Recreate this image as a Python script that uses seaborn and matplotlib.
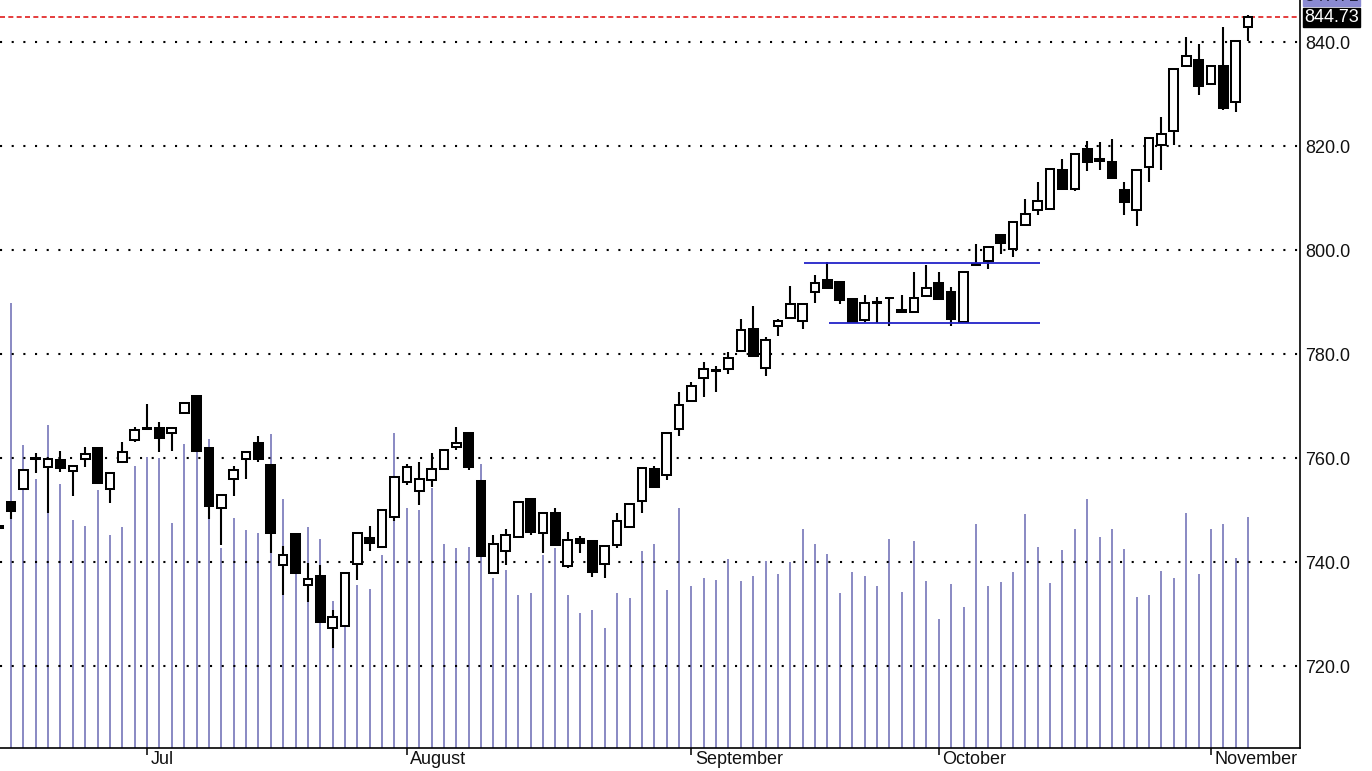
import numpy as np
import matplotlib
matplotlib.use("Agg")
import matplotlib.pyplot as plt
import seaborn as sns

# ---------------- data ----------------
opens = [746.9,
    751.5, 754.0, 759.9, 758.3, 759.6, 757.5, 759.8, 761.9, 754.0, 759.2,
    763.5, 765.8, 765.8, 764.9, 768.7, 772.0, 761.9, 750.3, 756.0, 759.8,
    762.8, 758.7, 739.4, 745.4, 735.6, 737.4, 727.4, 727.7, 739.6, 744.6,
    742.8, 748.7, 755.4, 753.7, 755.8, 757.8, 762.2, 764.8, 755.6, 737.8,
    742.2, 744.8, 752.1, 745.6, 749.5, 739.2, 744.4, 744.0, 739.6, 743.3,
    746.8, 751.7, 757.8, 756.7, 765.6, 771.0, 775.4, 776.7, 777.1, 780.6,
    784.9, 777.4, 785.4, 786.9, 786.4, 792.0, 794.2, 793.9, 790.5, 786.5,
    789.9, 790.7, 788.5, 788.0, 791.2, 793.6, 791.9, 786.2, 797.4, 797.9,
    802.8, 800.2, 804.8, 807.7, 807.9, 815.3, 811.7, 819.4, 817.5, 817.0,
    811.5, 807.7, 816.0, 820.1, 822.9, 835.4, 836.5, 831.9, 835.4, 828.4,
    842.9]
highs = [746.9,
    751.5, 757.8, 761.0, 759.8, 761.3, 758.5, 762.2, 761.9, 757.2, 763.0,
    766.0, 770.3, 767.0, 766.0, 770.8, 772.0, 761.9, 752.9, 758.5, 761.2,
    764.2, 758.7, 743.0, 745.4, 739.9, 739.4, 730.8, 737.9, 745.6, 746.9,
    750.0, 756.3, 758.8, 759.3, 761.0, 761.5, 766.0, 764.8, 755.6, 745.2,
    746.4, 751.5, 752.1, 749.7, 750.3, 745.7, 745.0, 744.0, 743.1, 749.5,
    751.2, 758.0, 758.5, 764.8, 772.6, 774.7, 778.5, 777.7, 780.3, 786.7,
    789.3, 783.2, 786.7, 793.1, 789.6, 795.1, 797.6, 793.9, 790.5, 791.4,
    790.9, 791.0, 791.4, 795.7, 797.1, 795.7, 792.9, 795.8, 801.1, 800.5,
    802.8, 805.4, 809.8, 813.1, 815.5, 817.5, 818.5, 821.0, 820.7, 821.3,
    813.0, 815.3, 821.6, 825.6, 834.8, 840.9, 839.6, 835.4, 842.9, 840.1,
    845.2]
lows = [746.6,
    748.2, 753.8, 757.2, 749.5, 757.4, 752.7, 758.2, 755.1, 751.3, 759.2,
    763.1, 765.5, 761.2, 761.4, 768.7, 761.4, 748.2, 743.3, 752.6, 756.0,
    759.2, 741.8, 733.7, 737.8, 732.3, 728.5, 723.5, 727.7, 736.5, 742.1,
    742.8, 747.9, 754.8, 751.0, 754.5, 757.8, 761.5, 757.7, 741.2, 737.8,
    739.4, 744.8, 745.2, 741.8, 743.3, 738.8, 741.8, 737.2, 736.9, 742.6,
    746.8, 749.4, 754.5, 755.7, 764.3, 770.7, 771.8, 772.6, 776.2, 780.6,
    779.6, 775.8, 783.5, 786.9, 784.8, 789.9, 792.6, 789.6, 786.2, 786.1,
    786.0, 785.4, 788.0, 788.0, 791.2, 790.6, 785.4, 786.2, 796.9, 796.3,
    799.2, 798.6, 804.8, 806.7, 807.7, 811.7, 811.4, 815.1, 815.4, 813.9,
    806.7, 804.7, 813.1, 815.4, 820.2, 835.4, 829.8, 831.9, 826.9, 826.6,
    840.1]
closes = [746.6,
    749.9, 757.6, 760.0, 759.8, 758.0, 758.5, 760.8, 755.1, 757.2, 761.2,
    765.4, 765.5, 763.8, 765.8, 770.5, 761.4, 750.8, 752.9, 757.6, 761.2,
    759.9, 745.5, 741.3, 737.8, 736.7, 728.5, 729.5, 737.9, 745.6, 743.6,
    750.0, 756.3, 758.3, 756.0, 757.8, 761.5, 762.9, 758.3, 741.2, 743.4,
    745.1, 751.5, 745.8, 749.5, 743.3, 744.2, 743.6, 738.0, 743.1, 747.8,
    751.2, 758.0, 754.5, 764.8, 770.2, 773.9, 777.1, 776.9, 779.2, 784.6,
    779.6, 782.7, 786.4, 789.6, 789.6, 793.6, 792.6, 790.3, 786.2, 789.9,
    790.0, 790.8, 788.0, 790.7, 792.6, 790.6, 786.7, 795.8, 797.1, 800.5,
    801.3, 805.4, 806.9, 809.4, 815.5, 811.7, 818.5, 816.9, 817.2, 813.9,
    809.3, 815.3, 821.6, 822.4, 834.8, 837.3, 831.5, 835.4, 827.4, 840.1,
    844.73]
volumes = [2.00,
    4.45, 3.03, 2.69, 3.23, 2.64, 2.28, 2.22, 2.58, 2.13, 2.21,
    2.82, 2.91, 2.90, 2.25, 3.04, 2.96, 3.09, 2.00, 2.30, 2.18,
    2.15, 3.14, 2.49, 2.08, 2.21, 2.09, 1.47, 1.36, 1.63, 1.59,
    1.93, 3.15, 2.40, 2.38, 2.60, 2.04, 2.00, 2.01, 2.84, 1.70,
    1.78, 1.53, 1.55, 1.93, 2.00, 1.53, 1.35, 1.38, 1.20, 1.55,
    1.50, 1.97, 2.04, 1.58, 2.40, 1.62, 1.70, 1.68, 1.89, 1.67,
    1.72, 1.87, 1.74, 1.86, 2.19, 2.04, 1.94, 1.55, 1.76, 1.72,
    1.62, 2.09, 1.56, 2.07, 1.67, 1.29, 1.64, 1.41, 2.24, 1.62,
    1.66, 1.76, 2.34, 2.01, 1.65, 1.98, 2.19, 2.49, 2.11, 2.19,
    1.99, 1.51, 1.53, 1.77, 1.70, 2.35, 1.74, 2.19, 2.24, 1.90,
    2.31]

month_labels = ["Jul", "August", "September", "October", "November"]
month_start_idx = [12, 33, 56, 76, 98]
price_levels = [720, 740, 760, 780, 800, 820, 840]
last_close = 844.73
prev_label = "847.71"
channel_top = 797.5
channel_top_span = (65.1, 84.2)
channel_bottom = 786.0
channel_bottom_span = (67.1, 84.2)

# ---------------- style ----------------
sns.set_theme(style="white")
plt.rcParams["font.family"] = ["Liberation Sans", "DejaVu Sans"]

W, H = 1372, 771
fig = plt.figure(figsize=(W / 100, H / 100), dpi=100)
fig.patch.set_facecolor("white")
rect = [0, 23 / H, 1300 / W, 748 / H]

axv = fig.add_axes(rect)
ax = fig.add_axes(rect, sharex=axv)
ax.patch.set_alpha(0)

x = np.arange(len(opens))
o = np.array(opens); c = np.array(closes)
hi = np.array(highs); lo = np.array(lows)

# volume
axv.vlines(x, 0, volumes, color="#6f6fb6", lw=1.15)
axv.set_ylim(0, 7.48)
axv.axis("off")

# gridlines
for lvl in price_levels:
    ax.axhline(lvl, color="black", lw=1.5, linestyle=(0, (1, 4.6)), zorder=1)

# candles
up = c >= o
ax.vlines(x, lo, hi, color="black", lw=1.5, zorder=2)
bottoms = np.minimum(o, c)
heights = np.maximum(np.abs(c - o), 0.05)
faces = np.where(up, "white", "black")
ax.bar(x, heights, bottom=bottoms, width=0.70, color=faces,
       edgecolor="black", linewidth=1.45, zorder=3)

# annotations
ax.axhline(last_close, color="#e01c1c", lw=1.2, linestyle=(0, (3, 2)), zorder=1)
ax.hlines(channel_top, *channel_top_span, color="#2323c8", lw=1.3, zorder=4)
ax.hlines(channel_bottom, *channel_bottom_span, color="#2323c8", lw=1.3, zorder=4)

ax.set_xlim(0.111, 105.2)
ax.set_ylim(848.077 - 748 / 5.2, 848.077)

# axes decorations
sns.despine(ax=ax, left=True, top=True, right=False, bottom=False)
for s in ("right", "bottom"):
    ax.spines[s].set_color("black")
    ax.spines[s].set_linewidth(1.2)

ax.yaxis.tick_right()
ax.set_yticks(price_levels)
ax.set_yticklabels([f"{v:.1f}" for v in price_levels])
ax.tick_params(axis="y", right=True, left=False, length=0, pad=4,
               labelsize=13, colors="#111111")

ax.set_xticks(month_start_idx)
ax.set_xticklabels([])
ax.tick_params(axis="x", bottom=True, length=5, width=1.1, color="black",
               direction="out")
for idx, lab in zip(month_start_idx, month_labels):
    ax.annotate(lab, xy=(idx, 0), xycoords=("data", "axes fraction"),
                xytext=(2.5, -2.5), textcoords="offset points",
                ha="left", va="top", fontsize=13, color="#111111")

ax.annotate(f"{last_close:.2f}", xy=(1, last_close),
            xycoords=("axes fraction", "data"), xytext=(3, 0),
            textcoords="offset points", ha="left", va="center",
            fontsize=13, color="white",
            bbox=dict(boxstyle="square,pad=0.06", fc="black", ec="black"))
ax.annotate(prev_label, xy=(1, 847.12),
            xycoords=("axes fraction", "data"), xytext=(3, 0),
            textcoords="offset points", ha="left", va="bottom",
            fontsize=13, color="#202040", annotation_clip=False,
            bbox=dict(boxstyle="square,pad=0.06", fc="#8a8ad2", ec="#8a8ad2"))

ax.grid(False)
fig.savefig("out.png", dpi=100, facecolor="white")
